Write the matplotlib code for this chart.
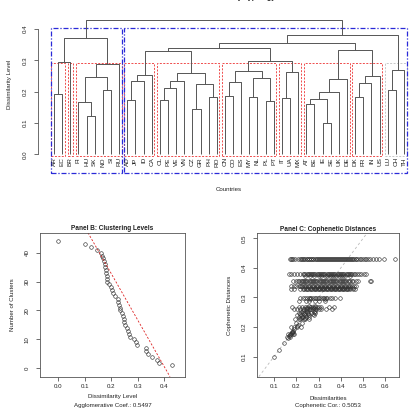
import numpy as np
import matplotlib
matplotlib.use("Agg")
import matplotlib.pyplot as plt
from matplotlib.patches import Rectangle

plt.rcParams['font.family'] = ['Liberation Sans', 'DejaVu Sans']

# leaf order as drawn in the dendrogram
countries = ["AR", "EC", "BR", "FI", "HU", "SK", "NO", "SI", "RU", "AD", "JP", "ID", "CA",
             "CL", "PE", "VE", "VN", "CZ", "GR", "PH", "RO", "CN", "CO", "ES", "MY", "NL",
             "PL", "PT", "IT", "UA", "MX", "AT", "BE", "IE", "SE", "UK", "DE", "DK", "FR",
             "IN", "US", "LU", "CH", "TH"]

# merges: (child a, child b, height); str = leaf, int = earlier merge
merges = [
    ("IE", "SE", 0.100), ("HU", "SK", 0.122), ("CZ", "GR", 0.146), ("AT", "BE", 0.162),
    ("FI", 1, 0.167), ("PL", "PT", 0.169), ("CL", "PE", 0.173), ("AD", "JP", 0.175),
    (3, 0, 0.178), ("IT", "UA", 0.181), ("MY", "NL", 0.182), ("PH", "RO", 0.183),
    ("DK", "FR", 0.184), ("CN", "CO", 0.186), ("AR", "EC", 0.192), (8, "UK", 0.199),
    ("LU", "CH", 0.204), ("NO", "SI", 0.207), (6, "VE", 0.213), (2, 11, 0.226),
    (12, "IN", 0.227), (13, "ES", 0.231), (18, "VN", 0.233), (7, "ID", 0.235),
    (15, "DE", 0.240), (10, 5, 0.245), (4, 17, 0.247), (20, "US", 0.250),
    (23, "CA", 0.254), (22, 19, 0.260), (9, "MX", 0.263), (21, 25, 0.267),
    (16, "TH", 0.270), (26, "RU", 0.288), (14, "BR", 0.295), (31, 30, 0.298),
    (28, 29, 0.330), (24, 27, 0.332), (36, 35, 0.338), (38, 37, 0.356),
    (34, 33, 0.373), (39, 32, 0.380), (40, 41, 0.430),
]

agglo_coef = 0.5497
coph_cor = 0.5053
# dashed trend line in panel B
trend_intercept = 64.9
trend_slope = -160.4

d_430 = [0.171, 0.176, 0.181, 0.187, 0.196, 0.207, 0.215, 0.222, 0.226, 0.231, 0.236, 0.241,
         0.246, 0.250, 0.255, 0.259, 0.264, 0.268, 0.273, 0.277, 0.282, 0.287, 0.291, 0.296,
         0.300, 0.305, 0.309, 0.314, 0.318, 0.323, 0.328, 0.332, 0.337, 0.341, 0.346, 0.350,
         0.355, 0.360, 0.364, 0.369, 0.373, 0.378, 0.382, 0.387, 0.392, 0.396, 0.401, 0.405,
         0.410, 0.414, 0.419, 0.424, 0.428, 0.433, 0.437, 0.442, 0.447, 0.451, 0.456, 0.461,
         0.466, 0.470, 0.477, 0.485, 0.492, 0.500, 0.508, 0.515, 0.524, 0.533, 0.546, 0.558,
         0.572, 0.594, 0.642]
d_380 = [0.168, 0.178, 0.190, 0.205, 0.215, 0.228, 0.236, 0.241, 0.246, 0.251, 0.256, 0.261,
         0.266, 0.271, 0.276, 0.281, 0.286, 0.291, 0.296, 0.301, 0.306, 0.311, 0.316, 0.321,
         0.326, 0.331, 0.336, 0.341, 0.346, 0.351, 0.356, 0.361, 0.366, 0.371, 0.376, 0.381,
         0.386, 0.391, 0.396, 0.401, 0.406, 0.411, 0.416, 0.421, 0.426, 0.431, 0.436, 0.441,
         0.446, 0.452, 0.458, 0.465, 0.472, 0.482, 0.490, 0.505, 0.515]
d_373 = [0.240, 0.260, 0.280, 0.300, 0.310, 0.330, 0.340, 0.350, 0.360, 0.370, 0.380, 0.390,
         0.400, 0.410, 0.420, 0.440]
d_356 = [0.185, 0.200, 0.209, 0.214, 0.220, 0.225, 0.230, 0.235, 0.240, 0.245, 0.250, 0.255,
         0.260, 0.265, 0.270, 0.275, 0.280, 0.285, 0.290, 0.295, 0.300, 0.305, 0.310, 0.315,
         0.320, 0.325, 0.330, 0.335, 0.340, 0.345, 0.350, 0.355, 0.360, 0.365, 0.370, 0.375,
         0.380, 0.385, 0.390, 0.395, 0.400, 0.405, 0.410, 0.415, 0.420, 0.425, 0.430, 0.436,
         0.442, 0.448, 0.455, 0.468, 0.476, 0.530, 0.536]
d_338 = [0.178, 0.190, 0.200, 0.210, 0.215, 0.221, 0.227, 0.233, 0.239, 0.245, 0.251, 0.257,
         0.263, 0.269, 0.275, 0.281, 0.287, 0.293, 0.299, 0.305, 0.311, 0.317, 0.323, 0.329,
         0.335, 0.341, 0.347, 0.353, 0.359, 0.365, 0.371, 0.377, 0.383, 0.389, 0.395, 0.401,
         0.407, 0.413, 0.419, 0.425, 0.431, 0.437, 0.443, 0.450, 0.460, 0.470]
d_332 = [0.240, 0.260, 0.280, 0.290, 0.300, 0.310, 0.320, 0.330, 0.340, 0.350, 0.360, 0.370,
         0.380, 0.390, 0.400, 0.410, 0.420, 0.430, 0.440, 0.455]
d_330 = [0.176, 0.190, 0.215, 0.230, 0.236, 0.242, 0.248, 0.254, 0.260, 0.266, 0.272, 0.278,
         0.284, 0.290, 0.296, 0.302, 0.308, 0.314, 0.320, 0.326, 0.332, 0.338, 0.344, 0.350,
         0.356, 0.362, 0.368, 0.374, 0.380, 0.386, 0.392, 0.398, 0.404, 0.410, 0.416, 0.422,
         0.428, 0.434, 0.440, 0.455, 0.462]
d_298 = [0.217, 0.230, 0.240, 0.248, 0.255, 0.262, 0.268, 0.275, 0.282, 0.290, 0.296, 0.303,
         0.310, 0.318, 0.325, 0.333, 0.340, 0.350, 0.360, 0.375, 0.398]
# remaining (smaller) merges: one dissimilarity list per merge height
low_coph = [0.100, 0.122, 0.146, 0.162, 0.167, 0.169, 0.173, 0.175, 0.178, 0.181, 0.182,
            0.183, 0.184, 0.186, 0.192, 0.199, 0.204, 0.207, 0.213, 0.226, 0.227, 0.231,
            0.233, 0.235, 0.240, 0.245, 0.247, 0.250, 0.254, 0.260, 0.263, 0.267, 0.270,
            0.288, 0.295]
low_dissim = [
    [0.100], [0.122], [0.146], [0.162], [0.160, 0.174], [0.169], [0.173], [0.175],
    [0.165, 0.172, 0.184, 0.191], [0.181], [0.182], [0.183], [0.184], [0.186], [0.192],
    [0.178, 0.192, 0.205, 0.221], [0.204], [0.207], [0.200, 0.226],
    [0.196, 0.218, 0.235, 0.255], [0.214, 0.240], [0.222, 0.240], [0.210, 0.232, 0.257],
    [0.226, 0.244], [0.205, 0.222, 0.238, 0.255, 0.280], [0.218, 0.236, 0.252, 0.274],
    [0.212, 0.228, 0.240, 0.252, 0.265, 0.285], [0.222, 0.248, 0.280], [0.228, 0.250, 0.284],
    [0.190, 0.205, 0.218, 0.228, 0.236, 0.243, 0.250, 0.256, 0.262, 0.268, 0.275, 0.283,
     0.290, 0.300, 0.312, 0.335, 0.360],
    [0.248, 0.278],
    [0.180, 0.210, 0.225, 0.238, 0.250, 0.260, 0.268, 0.275, 0.283, 0.292, 0.300, 0.310,
     0.345, 0.370],
    [0.255, 0.285], [0.213, 0.243, 0.255, 0.285, 0.300, 0.327], [0.262, 0.328],
]

line_col = "#555555"
txt_col = "#222222"
fs = 4.4

fig = plt.figure(figsize=(4.11, 4.17), dpi=100)


def fx(x):
    return x / 411.0


def fy(y):
    return 1 - y / 417.0


# ---------------- Panel A: dendrogram ----------------
axA = fig.add_axes([fx(38), fy(156), (411 - 38) / 411.0, (156 - 15) / 417.0])
pos = {c: i + 1 for i, c in enumerate(countries)}
nodes = []  # (x, height, leaves)


def get_node(ref):
    if isinstance(ref, str):
        return pos[ref], 0.0, [ref]
    return nodes[ref]


for a, b, h in merges:
    xa, ha, la = get_node(a)
    xb, hb, lb = get_node(b)
    axA.plot([xa, xa, xb, xb], [ha, h, h, hb], color=line_col, lw=0.7, solid_capstyle="butt")
    nodes.append(((xa + xb) / 2.0, h, la + lb))

for c in countries:
    axA.text(pos[c], -0.009, c, rotation=90, ha="center", va="top", fontsize=fs + 0.2, color=txt_col)

heights_desc = sorted([m[2] for m in merges], reverse=True)


def cut_tree(k):
    cut = (heights_desc[k - 2] + heights_desc[k - 1]) / 2.0
    groups = []

    def walk(ref):
        x, h, leaves = get_node(ref)
        if h > cut:
            a, b, _ = merges[ref]
            walk(a)
            walk(b)
        else:
            groups.append(leaves)

    walk(len(merges) - 1)
    groups.sort(key=lambda g: min(pos[l] for l in g))
    return cut, groups


ylo = -0.0054
cut10, groups10 = cut_tree(10)
for i, g in enumerate(groups10):
    p = [pos[l] for l in g]
    col = "#ee4040" if i < len(groups10) - 1 else "#c4c4c4"
    axA.add_patch(Rectangle((min(p) - 0.34, ylo), max(p) - min(p) + 0.67, cut10 - ylo,
                            fill=False, ec=col, lw=0.65, ls=(0, (2.2, 1.6)), clip_on=False))
cut2, groups2 = cut_tree(2)
for g in groups2:
    p = [pos[l] for l in g]
    axA.add_patch(Rectangle((min(p) - 0.34, -0.061), max(p) - min(p) + 0.67, cut2 + 0.061,
                            fill=False, ec="#2a2ad8", lw=0.9, ls=(0, (4, 1.5, 1, 1.5)), clip_on=False))

axA.set_xlim(1 - 16 / 8.14, 44 + 7 / 8.14)
axA.set_ylim(ylo, 0.445)
for s in ["top", "right", "bottom"]:
    axA.spines[s].set_visible(False)
axA.spines["left"].set_bounds(0, 0.4)
axA.spines["left"].set_color(line_col)
axA.spines["left"].set_linewidth(0.6)
axA.set_xticks([])
axA.set_yticks([0.0, 0.1, 0.2, 0.3, 0.4])
axA.set_yticklabels(["0.0", "0.1", "0.2", "0.3", "0.4"])
axA.tick_params(axis="y", length=3, width=0.6, color=line_col, pad=4.5, labelsize=fs, labelcolor=txt_col)
plt.setp(axA.get_yticklabels(), rotation=90, va="center")
fig.text(fx(10), fy(84), "Dissimilarity Level", rotation=90, ha="center", va="center", fontsize=fs, color=txt_col)
fig.text(fx(229), fy(189), "Countries", ha="center", va="center", fontsize=fs, color=txt_col)
# title sits above the top edge; only its descenders show, as in the chart
fig.text(fx(229), fy(-1.0), "Panel A: Country Typology", ha="center",
         va="baseline", fontsize=fs + 0.8, fontweight="bold", color=txt_col)

# ---------------- Panel B: clustering levels ----------------
merge_h = np.array(sorted(m[2] for m in merges))
n_clusters = len(countries) - 1 - np.arange(len(merge_h))
axB = fig.add_axes([fx(40), fy(376.7), 145 / 411.0, 144 / 417.0])
axB.plot(np.r_[0.0, merge_h], np.r_[len(countries), n_clusters], "o", ms=2.6, mfc="none",
         mec="#333333", mew=0.45)
axB.axline((0, trend_intercept), slope=trend_slope, color="#dd2222", lw=0.6, ls=(0, (2.5, 2)))
axB.set_xlim(-0.0693, 0.4795)
axB.set_ylim(-2.9, 46.9)
axB.set_xticks([0.0, 0.1, 0.2, 0.3, 0.4])
axB.set_xticklabels(["0.0", "0.1", "0.2", "0.3", "0.4"])
axB.set_yticks([0, 10, 20, 30, 40])
axB.set_title("Panel B: Clustering Levels", fontsize=fs + 0.3, fontweight="bold", color=txt_col, pad=2)
fig.text(fx(112.5), fy(396.7), "Dissimilarity Level", ha="center", va="center", fontsize=fs, color=txt_col)
fig.text(fx(112.5), fy(405), "Agglomerative Coef.: %.4f" % agglo_coef, ha="center", va="center",
         fontsize=fs, color=txt_col)
fig.text(fx(12), fy(304.7), "Number of Clusters", rotation=90, ha="center", va="center", fontsize=fs, color=txt_col)

# ---------------- Panel C: cophenetic distances ----------------
axC = fig.add_axes([fx(256.7), fy(376.7), (399 - 256.7) / 411.0, (376.7 - 233.3) / 417.0])
rows = [(0.430, d_430), (0.380, d_380), (0.373, d_373), (0.356, d_356), (0.338, d_338),
        (0.332, d_332), (0.330, d_330), (0.298, d_298)] + list(zip(low_coph, low_dissim))
xs, ys = [], []
for c, ds in rows:
    xs += ds
    ys += [c] * len(ds)
axC.axline((0, 0), (1, 1), color="#bbbbbb", lw=0.6, ls=(0, (3, 3)))
axC.plot(xs, ys, "o", ms=2.6, mfc="none", mec="#333333", mew=0.45)
axC.set_xlim(0.0224, 0.661)
axC.set_ylim(0.032, 0.517)
axC.set_xticks([0.1, 0.2, 0.3, 0.4, 0.5, 0.6])
axC.set_yticks([0.1, 0.2, 0.3, 0.4, 0.5])
axC.set_title("Panel C: Cophenetic Distances", fontsize=fs + 0.3, fontweight="bold", color=txt_col, pad=2)
fig.text(fx(328), fy(398.3), "Dissimilarities", ha="center", va="center", fontsize=fs, color=txt_col)
fig.text(fx(328), fy(405.5), "Cophenetic Cor.: %.4f" % coph_cor, ha="center", va="center",
         fontsize=fs, color=txt_col)
fig.text(fx(229), fy(305), "Cophenetic Distances", rotation=90, ha="center", va="center", fontsize=fs, color=txt_col)

for ax in (axB, axC):
    for s in ax.spines.values():
        s.set_color(line_col)
        s.set_linewidth(0.6)
    ax.tick_params(length=3, width=0.6, color=line_col, labelsize=fs, labelcolor=txt_col, pad=2.5)
    ax.tick_params(axis="y", pad=4.5)
    plt.setp(ax.get_yticklabels(), rotation=90, va="center")

fig.savefig("out.png", dpi=100)
